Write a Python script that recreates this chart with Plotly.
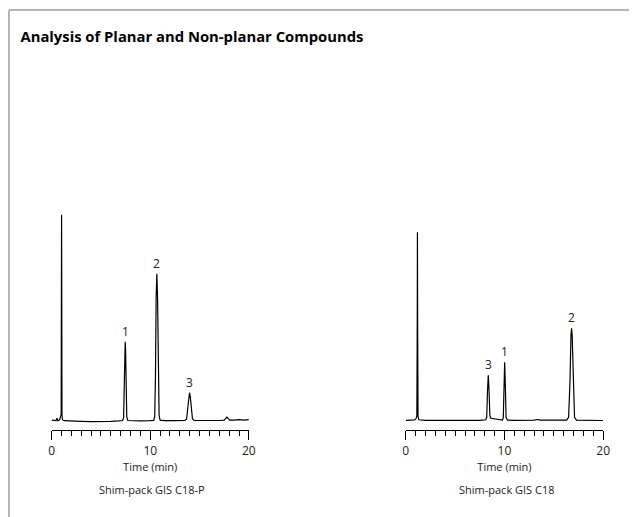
import plotly.graph_objects as go

# Chromatogram vertices (time in min, detector response in arbitrary units)
c18p_time = [0.0, 0.3, 0.45, 0.55, 0.62, 0.75, 0.85, 0.92, 0.97, 0.99, 1.01, 1.03, 1.05, 1.1, 1.25,
             2.0, 3.0, 4.0, 5.0, 6.0, 6.8, 7.2, 7.3, 7.36, 7.42, 7.46, 7.5, 7.56, 7.62, 7.72,
             8.2, 9.0, 10.0, 10.35, 10.45, 10.53, 10.6, 10.67, 10.74, 10.81, 10.9, 11.0, 11.5,
             12.5, 13.5, 13.68, 13.8, 13.9, 13.98, 14.06, 14.16, 14.28, 14.45, 15.0, 16.0, 17.0,
             17.5, 17.77, 18.05, 18.5, 19.0, 19.5, 20.0]
c18p_signal = [1.5, 1.0, 1.2, 3.5, 1.0, 1.5, 3.0, 6.0, 6.5, 120, 207, 120, 6.0, 2.0, 1.0,
               0.5, 0.3, 0.0, 0.0, 0.3, 0.8, 1.2, 4, 30, 72, 80, 72, 30, 5, 1.2,
               0.8, 0.8, 1.0, 1.2, 5, 45, 125, 148, 125, 45, 6, 1.5, 1.0,
               1.0, 1.2, 2.5, 12, 25, 29, 25, 12, 3, 1.2, 1.0, 1.2, 1.2,
               1.5, 4.5, 1.5, 1.5, 2.0, 1.5, 2.0]

c18_time = [0.0, 0.5, 0.9, 1.05, 1.12, 1.16, 1.18, 1.2, 1.24, 1.32, 2.0, 4.0, 6.0, 7.5,
            8.1, 8.2, 8.28, 8.36, 8.44, 8.52, 8.62, 9.0, 9.5, 9.8, 9.88, 9.95, 10.02, 10.09,
            10.16, 10.3, 11.0, 13.0, 13.4, 13.6, 15.0, 16.3, 16.5, 16.64, 16.74, 16.8, 16.86,
            16.96, 17.1, 17.3, 18.5, 20.0]
c18_signal = [1.0, 1.0, 1.5, 3.0, 5.0, 100, 189, 100, 5, 1.5, 1.0, 0.8, 1.0, 1.0,
              1.5, 4, 30, 46, 30, 6, 3, 2.5, 1.5, 1.2, 4, 35, 59, 35,
              4, 1.2, 1.0, 1.2, 1.8, 1.2, 1.0, 1.2, 4, 40, 86, 93, 86,
              40, 4, 1.2, 0.8, 0.8]

# Peak numbering: (label, retention time, apex height)
c18p_peaks = [("1", 7.46, 80), ("2", 10.67, 148), ("3", 13.98, 29)]
c18_peaks = [("3", 8.36, 46), ("1", 10.02, 59), ("2", 16.8, 93)]

column_names = ["Shim-pack GIS C18-P", "Shim-pack GIS C18"]
major_ticks = [0, 10, 20]
tick_text = ["0", "10", "20"]

W, H = 636, 517
FONT = "Open Sans"
TXT = "#222222"

# horizontal placement helper: the page is captured slightly wider than the figure,
# so horizontal pixel targets are mapped back through that capture factor
CAP_SCALE = 0.986
CAP_SHIFT = 2.0


def px_x(p):
    return min(1.0, max(0.0, (p - CAP_SHIFT) / CAP_SCALE / W))


def px_y(p):
    return 1 - p / H


fig = go.Figure()
fig.add_trace(go.Scatter(x=c18p_time, y=c18p_signal, mode="lines", xaxis="x", yaxis="y",
                         line=dict(color="black", width=1.2), showlegend=False, hoverinfo="skip"))
fig.add_trace(go.Scatter(x=c18_time, y=c18_signal, mode="lines", xaxis="x2", yaxis="y2",
                         line=dict(color="black", width=1.2), showlegend=False, hoverinfo="skip"))

xa_common = dict(
    range=[0, 20], showline=True, linecolor="black", linewidth=1, mirror=False,
    showgrid=False, zeroline=False, ticks="outside", ticklen=9, tickwidth=1, tickcolor="black",
    tickvals=major_ticks, ticktext=tick_text, tickfont=dict(family=FONT, size=12, color=TXT),
    minor=dict(dtick=1, tick0=0, ticks="outside", ticklen=5, tickwidth=1, tickcolor="black",
               showgrid=False),
    title=dict(text="Time (min)", font=dict(family=FONT, size=11, color=TXT), standoff=1),
    fixedrange=True,
)
ya_common = dict(visible=False, showgrid=False, zeroline=False, fixedrange=True)

axis_bottom = 430.3
axis_top = 200.0
span = axis_bottom - axis_top

fig.update_layout(
    width=W, height=H,
    margin=dict(l=0, r=0, t=0, b=0),
    paper_bgcolor="white", plot_bgcolor="white",
    xaxis=dict(domain=[px_x(50.7), px_x(248.3)], anchor="y", **xa_common),
    xaxis2=dict(domain=[px_x(405.5), px_x(603.2)], anchor="y2", **xa_common),
    yaxis=dict(domain=[px_y(axis_bottom), px_y(axis_top)], anchor="x",
               range=[-(axis_bottom - 421.7), span - (axis_bottom - 421.7)], **ya_common),
    yaxis2=dict(domain=[px_y(axis_bottom), px_y(axis_top)], anchor="x2",
                range=[-(axis_bottom - 421.3), span - (axis_bottom - 421.3)], **ya_common),
    title=dict(text="<b>Analysis of Planar and Non-planar Compounds</b>",
               x=px_x(19.5), xanchor="left", xref="paper",
               y=px_y(36.5), yanchor="middle", yref="paper",
               font=dict(family=FONT, size=14.8, color="black")),
    showlegend=False,
)

# Outer frame (top and left edges)
frame = dict(color="#b4b4b4", width=2)
fig.add_shape(type="line", xref="paper", yref="paper",
              x0=px_x(8), y0=px_y(10), x1=1.0, y1=px_y(10), line=frame)
fig.add_shape(type="line", xref="paper", yref="paper",
              x0=px_x(8), y0=px_y(10), x1=px_x(8), y1=0.0, line=frame)

# Peak numbers
for peaks, xr, yr in [(c18p_peaks, "x", "y"), (c18_peaks, "x2", "y2")]:
    for label, t, h in peaks:
        fig.add_annotation(x=t, y=h, xref=xr, yref=yr, text=label, showarrow=False,
                           yanchor="bottom", yshift=0,
                           font=dict(family=FONT, size=12, color=TXT))

# Column names under each chromatogram
for name, xc in zip(column_names, [151.5, 507.0]):
    fig.add_annotation(x=px_x(xc), y=px_y(489.3), xref="paper", yref="paper", text=name,
                       showarrow=False, xanchor="center", yanchor="middle",
                       font=dict(family=FONT, size=11, color=TXT))

fig.write_html("out.html")
